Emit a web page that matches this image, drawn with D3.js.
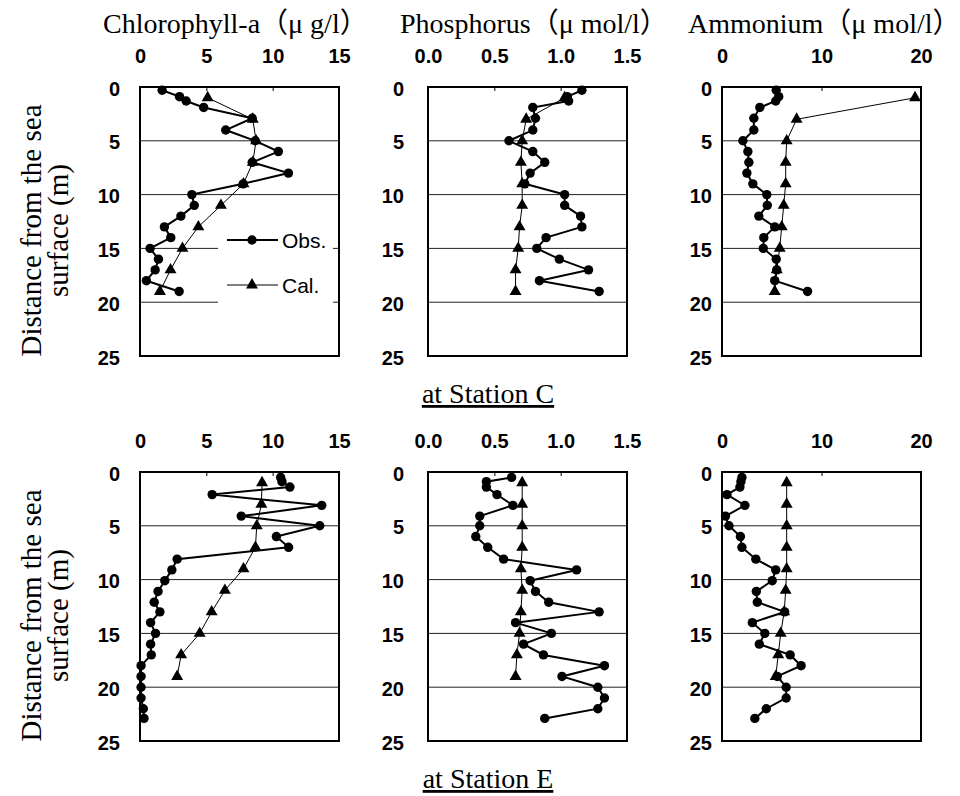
<!DOCTYPE html>
<html>
<head>
<meta charset="utf-8">
<script src="https://cdn.jsdelivr.net/npm/d3@7"></script>
<style>
  body { margin: 0; background: #fff; }
  .tick text { font-family: "Liberation Sans", Arial, sans-serif; font-size: 20px; font-weight: bold; fill: #000; }
  .serif { font-family: "Liberation Serif", "Times New Roman", "Noto Sans CJK JP", serif; fill: #000; }
</style>
</head>
<body>
<div id="chart"></div>
<script>
// depths (m) of the samples and model output
const depthObsC = [0.3, 0.9, 1.3, 1.9, 2.9, 4, 5, 6, 7, 8, 9, 10, 11, 12, 13, 14, 15, 16, 17, 18, 19];
const depthObsE = [0.5, 0.9, 1.4, 2.1, 3.1, 4.1, 5, 6, 7, 8.1, 9.1, 10.1, 11.1, 12.1, 13, 14, 15, 16, 17, 18, 19, 20, 21, 22, 22.9];
const depthCal = [1, 3, 5, 7, 9, 11, 13, 15, 17, 19];

// Station C
const chlObsC = [1.67, 2.98, 3.48, 4.8, 8.46, 6.46, 8.69, 10.43, 8.46, 11.19, 7.78, 3.91, 4.09, 3.08, 1.84, 2.32, 0.76, 1.39, 1.14, 0.48, 2.95];
const chlCalC = [5.1, 8.5, 8.75, 8.5, 7.8, 6.1, 4.4, 3.2, 2.3, 1.5];
const phoObsC = [1.16, 1.05, 1.06, 0.79, 0.81, 0.79, 0.61, 0.79, 0.88, 0.77, 0.73, 1.03, 1.03, 1.15, 1.16, 0.89, 0.82, 0.99, 1.21, 0.84, 1.29];
const phoCalC = [1.03, 0.74, 0.71, 0.70, 0.71, 0.71, 0.69, 0.68, 0.66, 0.66];
const ammObsC = [5.45, 5.7, 5.4, 3.8, 3.2, 3.2, 2.1, 2.6, 2.7, 2.5, 3.1, 4.5, 4.55, 3.7, 5.3, 4.2, 4.15, 5.45, 5.5, 5.3, 8.6];
const ammCalC = [19.4, 7.5, 6.5, 6.4, 6.4, 6.2, 6.0, 5.8, 5.5, 5.3];

// Station E
const chlObsE = [10.6, 10.7, 11.3, 5.44, 13.7, 7.63, 13.55, 10.28, 11.2, 2.8, 2.4, 1.87, 1.36, 1.07, 1.5, 0.8, 1.17, 0.8, 0.85, 0.08, 0.08, 0.08, 0.08, 0.25, 0.3];
const chlCalE = [9.2, 9.15, 8.8, 8.7, 7.8, 6.4, 5.4, 4.5, 3.1, 2.8];
const phoObsE = [0.63, 0.44, 0.44, 0.52, 0.64, 0.39, 0.39, 0.36, 0.45, 0.57, 1.12, 0.77, 0.81, 0.91, 1.29, 0.66, 0.93, 0.72, 0.87, 1.33, 1.01, 1.28, 1.33, 1.28, 0.88];
const phoCalE = [0.71, 0.71, 0.71, 0.71, 0.70, 0.71, 0.70, 0.69, 0.67, 0.66];
const ammObsE = [2.0, 1.9, 1.8, 0.5, 2.3, 0.35, 0.7, 1.85, 2.0, 3.4, 5.4, 5.05, 3.45, 3.55, 6.3, 3.05, 4.3, 3.75, 6.85, 7.95, 5.55, 6.45, 6.45, 4.45, 3.3];
const ammCalE = [6.5, 6.5, 6.5, 6.5, 6.5, 6.4, 6.25, 5.9, 5.65, 5.4];

const titles = ["Chlorophyll-a\uFF08\u03BC g/l\uFF09", "Phosphorus\uFF08\u03BC mol/l\uFF09", "Ammonium\uFF08\u03BC mol/l\uFF09"];
const xDomains = [[0, 15], [0, 1.5], [0, 20]];
const xTicks = [[0, 5, 10, 15], [0, 0.5, 1, 1.5], [0, 10, 20]];
const xFormats = [d3.format("d"), d3.format(".1f"), d3.format("d")];
const yTicks = [0, 5, 10, 15, 20, 25];
const stations = ["at Station C", "at Station E"];
const legendLabels = ["Obs.", "Cal."];

// ----------------------------------
// LAYOUT
// ----------------------------------
const width = 960, height = 796;
const panelLeft = [140, 428, 722],
      panelWidth = 199,
      rowTop = [87, 472],
      panelHeight = 269,
      yLabelGap = [20, 24, 10],
      titleX = [103, 400, 688];

const svg = d3.select("#chart").append("svg")
  .attr("width", width)
  .attr("height", height);

const triangle = d3.symbol().type(d3.symbolTriangle).size(62);

const rows = [
  {obsDepth: depthObsC, series: [[chlObsC, chlCalC], [phoObsC, phoCalC], [ammObsC, ammCalC]]},
  {obsDepth: depthObsE, series: [[chlObsE, chlCalE], [phoObsE, phoCalE], [ammObsE, ammCalE]]}
];

rows.forEach((row, r) => {
  const yScale = d3.scaleLinear().domain([0, 25]).range([rowTop[r], rowTop[r] + panelHeight]);

  row.series.forEach((pair, c) => {
    const x0 = panelLeft[c];
    const xScale = d3.scaleLinear().domain(xDomains[c]).range([x0, x0 + panelWidth]);
    const g = svg.append("g");

    // gridlines
    g.selectAll("line.grid")
      .data([5, 10, 15, 20])
      .enter().append("line")
      .attr("x1", x0).attr("x2", x0 + panelWidth)
      .attr("y1", d => yScale(d)).attr("y2", d => yScale(d))
      .attr("stroke", "#222").attr("stroke-width", 1);

    // x axis on top, ticks pointing in
    const xAxis = g.append("g")
      .attr("transform", `translate(0, ${rowTop[r]})`)
      .call(d3.axisTop(xScale).tickValues(xTicks[c]).tickFormat(xFormats[c])
        .tickSizeInner(-4).tickSizeOuter(0).tickPadding(24));
    xAxis.select(".domain").remove();
    xAxis.selectAll(".tick line").attr("stroke", "#000");

    // y axis
    const yAxis = g.append("g")
      .attr("transform", `translate(${x0}, 0)`)
      .call(d3.axisLeft(yScale).tickValues(yTicks).tickSize(0).tickPadding(yLabelGap[c]));
    yAxis.select(".domain").remove();
    yAxis.selectAll(".tick text").attr("dy", "0.4em");

    // legend background (top-left panel only) hides the gridlines
    if (r === 0 && c === 0) {
      g.append("rect")
        .attr("x", 218).attr("y", 226).attr("width", 115).attr("height", 80)
        .attr("fill", "#fff");
    }

    // frame
    g.append("rect")
      .attr("x", x0).attr("y", rowTop[r])
      .attr("width", panelWidth).attr("height", panelHeight)
      .attr("fill", "none").attr("stroke", "#000").attr("stroke-width", 2);

    const obs = pair[0].map((v, i) => ({v: v, d: row.obsDepth[i]}));
    const cal = pair[1].map((v, i) => ({v: v, d: depthCal[i]}));
    const line = d3.line().x(p => xScale(p.v)).y(p => yScale(p.d));

    g.append("path").datum(cal)
      .attr("d", line).attr("fill", "none")
      .attr("stroke", "#000").attr("stroke-width", 1);
    g.selectAll("path.tri").data(cal).enter().append("path")
      .attr("class", "tri")
      .attr("d", triangle)
      .attr("transform", p => `translate(${xScale(p.v)}, ${yScale(p.d)})`)
      .attr("fill", "#000");

    g.append("path").datum(obs)
      .attr("d", line).attr("fill", "none")
      .attr("stroke", "#000").attr("stroke-width", 2);
    g.selectAll("circle").data(obs).enter().append("circle")
      .attr("cx", p => xScale(p.v)).attr("cy", p => yScale(p.d))
      .attr("r", 4.7).attr("fill", "#000");

    if (r === 0) {
      svg.append("text").attr("class", "serif")
        .attr("x", titleX[c]).attr("y", 33)
        .attr("font-size", 28)
        .text(titles[c]);
    }
  });

  // y axis title, two lines rotated
  const cy = rowTop[r] + panelHeight / 2 + 9;
  ["Distance from the sea", "surface (m)"].forEach((t, k) => {
    svg.append("text").attr("class", "serif")
      .attr("transform", `translate(${41 + k * 27}, ${cy}) rotate(-90)`)
      .attr("text-anchor", "middle")
      .attr("font-size", 29)
      .text(t);
  });

  // station caption, underlined
  const sy = rowTop[r] + panelHeight + 47;
  svg.append("text").attr("class", "serif")
    .attr("x", 488).attr("y", sy)
    .attr("text-anchor", "middle")
    .attr("font-size", 28)
    .attr("text-decoration", "underline")
    .text(stations[r]);
});

// ----------------------------------
// LEGEND
// ----------------------------------
const legendY = [240, 285];
legendLabels.forEach((lab, i) => {
  const lg = svg.append("g");
  lg.append("line")
    .attr("x1", 227).attr("x2", 278)
    .attr("y1", legendY[i]).attr("y2", legendY[i])
    .attr("stroke", "#000").attr("stroke-width", i === 0 ? 2 : 1);
  if (i === 0) {
    lg.append("circle").attr("cx", 252).attr("cy", legendY[i]).attr("r", 4.7).attr("fill", "#000");
  } else {
    lg.append("path").attr("d", triangle)
      .attr("transform", `translate(252, ${legendY[i]})`).attr("fill", "#000");
  }
  lg.append("text")
    .attr("x", 282).attr("y", legendY[i] + 8)
    .attr("font-family", "Liberation Sans, Arial, sans-serif")
    .attr("font-size", 21)
    .text(lab);
});
</script>
</body>
</html>
